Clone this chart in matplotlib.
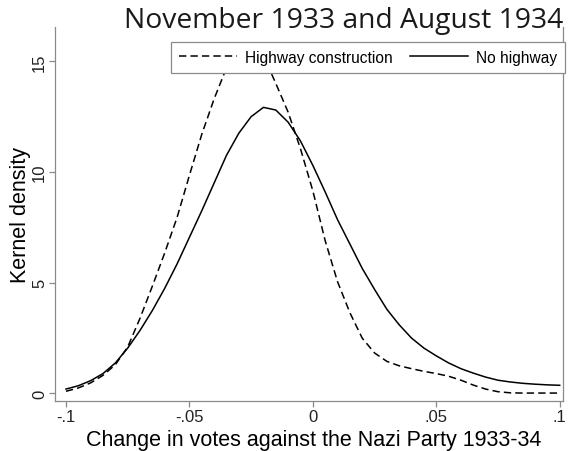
import matplotlib
matplotlib.use('Agg')
import matplotlib.pyplot as plt

# densities, x step 0.005
x = [-0.100, -0.095, -0.090, -0.085, -0.080, -0.075, -0.070, -0.065, -0.060, -0.055,
     -0.050, -0.045, -0.040, -0.035, -0.030, -0.025, -0.020, -0.015, -0.010, -0.005,
     0.000, 0.005, 0.010, 0.015, 0.020, 0.025, 0.030, 0.035, 0.040, 0.045,
     0.050, 0.055, 0.060, 0.065, 0.070, 0.075, 0.080, 0.085, 0.090, 0.095, 0.100]
highway = [0.10, 0.25, 0.48, 0.82, 1.30, 2.10, 3.40, 4.85, 6.35, 7.95,
           9.85, 11.70, 13.30, 14.70, 15.55, 15.75, 15.25, 14.00, 12.70, 11.05,
           9.15, 6.90, 5.05, 3.65, 2.50, 1.83, 1.45, 1.25, 1.12, 1.00,
           0.90, 0.78, 0.60, 0.38, 0.20, 0.08, 0.03, 0.02, 0.02, 0.02, 0.02]
no_highway = [0.20, 0.35, 0.58, 0.90, 1.38, 2.05, 2.85, 3.75, 4.75, 5.85,
              7.05, 8.25, 9.50, 10.75, 11.75, 12.50, 12.92, 12.80, 12.25, 11.40,
              10.30, 9.10, 7.85, 6.75, 5.65, 4.70, 3.80, 3.10, 2.50, 2.05,
              1.70, 1.38, 1.12, 0.92, 0.74, 0.60, 0.52, 0.46, 0.42, 0.39, 0.37]

xticks = [-0.1, -0.05, 0, 0.05, 0.1]
xticklabels = ['-.1', '-.05', '0', '.05', '.1']
yticks = [0, 5, 10, 15]

plt.rcParams['font.family'] = ['Liberation Sans', 'DejaVu Sans']

fig = plt.figure(figsize=(5.68, 4.52), dpi=100)
ax = fig.add_axes([0.0977, 0.1113, 0.8935, 0.8268])

ax.plot(x, highway, color='black', lw=1.1, linestyle=(0, (4.8, 2.7)), label='Highway construction')
ax.plot(x, no_highway, color='black', lw=1.1, label='No highway')

ax.set_xlim(-0.10425, 0.10134)
ax.set_ylim(-0.325, 16.55)
ax.set_xticks(xticks)
ax.set_xticklabels(xticklabels)
ax.set_yticks(yticks)
ax.set_yticklabels([str(v) for v in yticks], rotation=90, va='center')

grey = '#8a8a8a'
for s in ['left', 'bottom', 'right']:
    ax.spines[s].set_color(grey)
    ax.spines[s].set_linewidth(0.9)
ax.spines['top'].set_visible(False)
ax.tick_params(axis='both', direction='out', length=4, width=0.9, color=grey,
               labelsize=12, labelcolor='#222222')
ax.tick_params(axis='y', pad=2)
ax.tick_params(axis='x', pad=2)

ax.set_ylabel('Kernel density', fontsize=15.5, labelpad=1)
ax.set_xlabel('Change in votes against the Nazi Party 1933-34', fontsize=15.5)
ax.xaxis.set_label_coords(0.509, -0.077)

leg = ax.legend(loc='upper right', bbox_to_anchor=(565 / 568, 1 - 43 / 452),
                bbox_transform=fig.transFigure, ncol=2, fontsize=11.2,
                frameon=True, fancybox=False, handlelength=3.7, handletextpad=0.55,
                columnspacing=1.1, borderpad=0.5, borderaxespad=0)
leg.get_frame().set_edgecolor(grey)
leg.get_frame().set_linewidth(0.9)
leg.get_frame().set_alpha(1)

fig.text(563 / 568, 1 - 21 / 452, 'November 1933 and August 1934', ha='right', va='center',
         fontsize=20.3, family=['Open Sans', 'DejaVu Sans'], color='#1a1a1a')

fig.savefig('out.png', dpi=100)
